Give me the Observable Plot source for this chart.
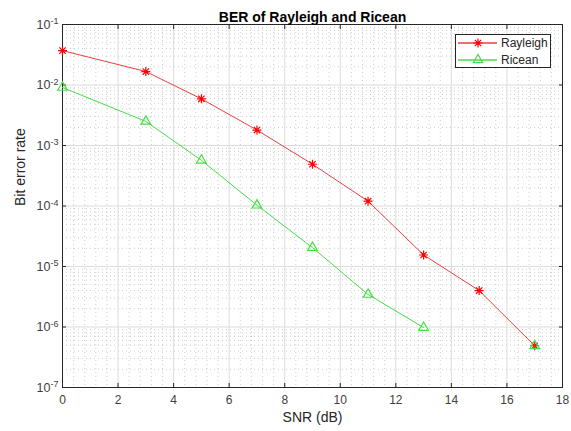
<!DOCTYPE html>
<html>
<head>
<meta charset="utf-8">
<script src="https://cdn.jsdelivr.net/npm/d3@7"></script>
<script src="https://cdn.jsdelivr.net/npm/@observablehq/plot@0.6"></script>
<style>
  html, body { margin: 0; padding: 0; background: #fff; }
  #wrap { position: relative; width: 571px; height: 431px; font-family: "Liberation Sans", Arial, sans-serif; }
  #legend { position: absolute; left: 455px; top: 34px; width: 96px; height: 34px; background: #fff; border: 1px solid #262626; box-sizing: border-box; }
</style>
</head>
<body>
<div id="wrap"></div>
<script>
// ---- data ----
const snr = [0, 3, 5, 7, 9, 11, 13, 15, 17];
const rayleigh = [0.037, 0.0167, 0.0059, 0.0018, 4.9e-4, 1.2e-4, 1.55e-5, 4.0e-6, 4.9e-7];
const ricean = [0.0091, 0.0025, 5.7e-4, 1.03e-4, 2.05e-5, 3.45e-6, 9.8e-7, null, 4.9e-7];
const seriesNames = ["Rayleigh", "Ricean"];
const xTicks = [0, 2, 4, 6, 8, 10, 12, 14, 16, 18];
const yTicks = [1e-1, 1e-2, 1e-3, 1e-4, 1e-5, 1e-6, 1e-7];
const titleText = "BER of Rayleigh and Ricean";
const xLabel = "SNR (dB)";
const yLabel = "Bit error rate";

// ---- derived ----
const rows = seriesNames.flatMap((name, s) =>
  snr.map((x, i) => ({series: name, snr: x, ber: (s === 0 ? rayleigh : ricean)[i]})));
const rayRows = rows.filter(d => d.series === "Rayleigh");
const ricRows = rows.filter(d => d.series === "Ricean");
const xMinor = d3.range(0, 18.0001, 0.4).filter(v => Math.abs(v / 2 - Math.round(v / 2)) > 1e-6);
const yMinor = [];
for (let e = -7; e < -1; e++) for (let k = 2; k <= 9; k++) yMinor.push(k * Math.pow(10, e));

const star8 = {
  draw(ctx, size) {
    const r = Math.sqrt(size / Math.PI);
    const d = r * Math.SQRT1_2;
    ctx.moveTo(-r, 0); ctx.lineTo(r, 0);
    ctx.moveTo(0, -r); ctx.lineTo(0, r);
    ctx.moveTo(-d, -d); ctx.lineTo(d, d);
    ctx.moveTo(-d, d); ctx.lineTo(d, -d);
  }
};

const RED = "#ff0000", RED_LINE = "#e8403f", GREEN = "#45de45";
const AX = "#262626";
const font = "Liberation Sans, Arial, sans-serif";

const chart = Plot.plot({
  width: 571,
  height: 431,
  marginLeft: 62,
  marginRight: 9,
  marginTop: 24,
  marginBottom: 44,
  style: {fontFamily: font, fontSize: "12px", color: "#404040", background: "#fff"},
  x: {domain: [0, 18], label: null},
  y: {type: "log", domain: [1e-7, 1e-1], label: null},
  marks: [
    Plot.gridX(xMinor, {stroke: "#cdcdcd", strokeOpacity: 1, strokeDasharray: "1,3"}),
    Plot.gridY(yMinor, {stroke: "#cdcdcd", strokeOpacity: 1, strokeDasharray: "1,3"}),
    Plot.gridX(xTicks, {stroke: "#dcdcdc", strokeOpacity: 1}),
    Plot.gridY(yTicks, {stroke: "#dcdcdc", strokeOpacity: 1}),
    Plot.axisX(xTicks, {anchor: "bottom", tickSize: 0, tickPadding: 8, fontSize: 12, fill: "#404040"}),
    Plot.axisX(xTicks, {anchor: "bottom", tickSize: -4, tickFormat: () => "", stroke: AX}),
    Plot.axisX(xTicks, {anchor: "top", tickSize: -4, tickFormat: () => "", stroke: AX, label: null}),
    Plot.axisY(yTicks, {anchor: "left", tickSize: 0, tickPadding: 4, fontSize: 12.5, fill: "#404040",
      tickFormat: d => String(Math.round(Math.log10(d)))}),
    Plot.axisY(yTicks, {anchor: "left", tickSize: -4, tickFormat: () => "", stroke: AX}),
    Plot.axisY(yTicks, {anchor: "right", tickSize: -4, tickFormat: () => "", stroke: AX, label: null}),
    Plot.frame({stroke: AX, strokeWidth: 1}),
    Plot.line(rayRows, {x: "snr", y: "ber", stroke: RED_LINE, strokeWidth: 1}),
    Plot.dot(rayRows, {x: "snr", y: "ber", stroke: RED, strokeWidth: 1.2, symbol: star8, r: 4.5}),
    Plot.line(ricRows, {x: "snr", y: "ber", stroke: GREEN, strokeWidth: 1}),
    Plot.dot(ricRows.filter(d => d.ber != null), {x: "snr", y: "ber", stroke: GREEN, strokeWidth: 1.2, fill: "none", symbol: "triangle2", r: 4.6}),
    Plot.text([titleText], {frameAnchor: "top", dy: -12, fontWeight: "bold", fontSize: 14, fill: "#000"}),
    Plot.text([xLabel], {frameAnchor: "bottom", dy: 34, fontSize: 14, fill: "#262626"}),
    Plot.text([yLabel], {frameAnchor: "left", dx: -42, rotate: -90, fontSize: 14, fill: "#262626"})
  ]
});

// superscript exponents on the y tick labels
d3.select(chart).selectAll('g[aria-label="y-axis tick label"] text').each(function () {
  const t = d3.select(this);
  const e = t.text();
  if (!e) return;
  t.text(null);
  t.append("tspan").text("10");
  t.append("tspan").attr("dy", "-0.45em").attr("font-size", "9px").text(e);
});

const wrap = document.getElementById("wrap");
wrap.appendChild(chart);

// legend
const legend = document.createElement("div");
legend.id = "legend";
const lsvg = d3.create("svg").attr("width", 94).attr("height", 32).style("display", "block");
seriesNames.forEach((name, i) => {
  const cy = 8 + i * 17;
  const g = lsvg.append("g");
  g.append("line").attr("x1", 2).attr("x2", 41).attr("y1", cy).attr("y2", cy)
    .attr("stroke", i === 0 ? RED_LINE : GREEN).attr("stroke-width", 1.3);
  const sym = i === 0 ? star8 : d3.symbolTriangle2;
  const size = 4.5 * 4.5 * Math.PI;
  g.append("path").attr("transform", `translate(22,${cy})`)
    .attr("d", d3.symbol(sym, size)())
    .attr("fill", "none").attr("stroke", i === 0 ? RED : GREEN).attr("stroke-width", 1.2);
  g.append("text").attr("x", 45).attr("y", cy).attr("dy", "0.36em")
    .attr("font-family", font).attr("font-size", 12).attr("fill", "#262626").text(name);
});
legend.appendChild(lsvg.node());
wrap.appendChild(legend);
</script>
</body>
</html>
